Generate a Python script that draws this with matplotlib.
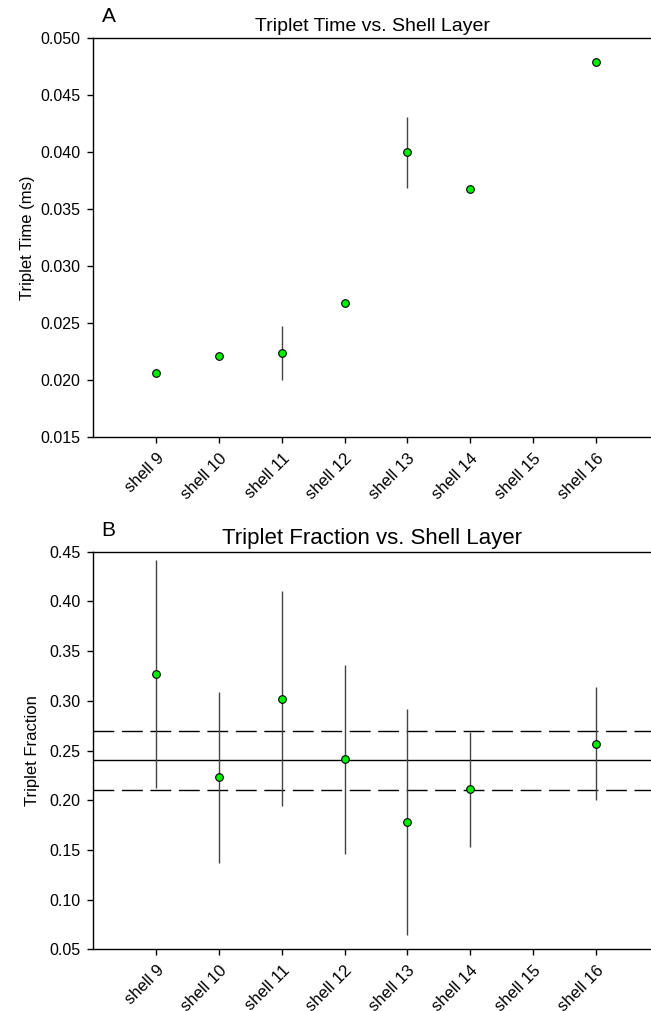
import matplotlib
matplotlib.use("Agg")
import matplotlib.pyplot as plt

plt.rcParams["font.family"] = ["Liberation Sans", "DejaVu Sans"]

shells = ["shell 9", "shell 10", "shell 11", "shell 12", "shell 13",
          "shell 14", "shell 15", "shell 16"]

# Panel A: triplet time (ms); shell 15 has no data
time_x = [1, 2, 3, 4, 5, 6, 8]
time_val = [0.0206, 0.0221, 0.0224, 0.0268, 0.0400, 0.0368, 0.0479]
time_err = [0.0, 0.0, 0.0024, 0.0, 0.0031, 0.0, 0.0003]

# Panel B: triplet fraction
frac_x = [1, 2, 3, 4, 5, 6, 8]
frac_val = [0.327, 0.223, 0.302, 0.241, 0.178, 0.211, 0.257]
frac_err = [0.115, 0.086, 0.108, 0.095, 0.114, 0.058, 0.057]

mean_frac = 0.24
band = [0.21, 0.27]

fig = plt.figure(figsize=(6.51, 10.11), dpi=100)
ax_a = fig.add_axes([0.1436, 0.5675, 0.8564, 0.3946])
ax_b = fig.add_axes([0.1436, 0.0610, 0.8564, 0.3933])


def style_axis(ax, ylim, yticks, fmt):
    ax.set_xlim(0, 8.88)
    ax.set_ylim(*ylim)
    ax.set_yticks(yticks)
    ax.set_yticklabels([fmt.format(v) for v in yticks], fontsize=11.5)
    ax.set_xticks(range(1, len(shells) + 1))
    ax.set_xticklabels(shells, rotation=45, ha="right", rotation_mode="anchor",
                       fontsize=12)
    ax.tick_params(direction="out", length=4.5, width=1, pad=5)
    ax.spines["right"].set_visible(False)
    for s in ("left", "bottom", "top"):
        ax.spines[s].set_linewidth(1.0)


# --- panel A ---
ax_a.errorbar(time_x, time_val, yerr=time_err, fmt="none", ecolor="#444444",
              elinewidth=1.0, capsize=0, zorder=2)
ax_a.plot(time_x, time_val, "o", ms=5.5, mfc="#00ee00", mec="black", mew=0.8,
          zorder=3)
style_axis(ax_a, (0.015, 0.050),
           [0.015, 0.020, 0.025, 0.030, 0.035, 0.040, 0.045, 0.050], "{:.3f}")
ax_a.set_ylabel("Triplet Time (ms)", fontsize=12, labelpad=4)
ax_a.set_title("Triplet Time vs. Shell Layer", fontsize=14, pad=5)
fig.text(0.1674, 0.9832, "A", fontsize=15, ha="center", va="center")

# --- panel B ---
ax_b.axhline(mean_frac, color="black", lw=1.0, zorder=1)
for b in band:
    ax_b.axhline(b, color="black", lw=1.0, ls=(0, (15, 5.5)), zorder=1)
ax_b.errorbar(frac_x, frac_val, yerr=frac_err, fmt="none", ecolor="#444444",
              elinewidth=1.0, capsize=0, zorder=2)
ax_b.plot(frac_x, frac_val, "o", ms=5.5, mfc="#00ee00", mec="black", mew=0.8,
          zorder=3)
style_axis(ax_b, (0.05, 0.45),
           [0.05, 0.10, 0.15, 0.20, 0.25, 0.30, 0.35, 0.40, 0.45], "{:.2f}")
ax_b.set_ylabel("Triplet Fraction", fontsize=12, labelpad=6.5)
ax_b.set_title("Triplet Fraction vs. Shell Layer", fontsize=16, pad=5.5)
fig.text(0.1659, 0.4748, "B", fontsize=15, ha="center", va="center")

fig.savefig("out.png", dpi=100)
